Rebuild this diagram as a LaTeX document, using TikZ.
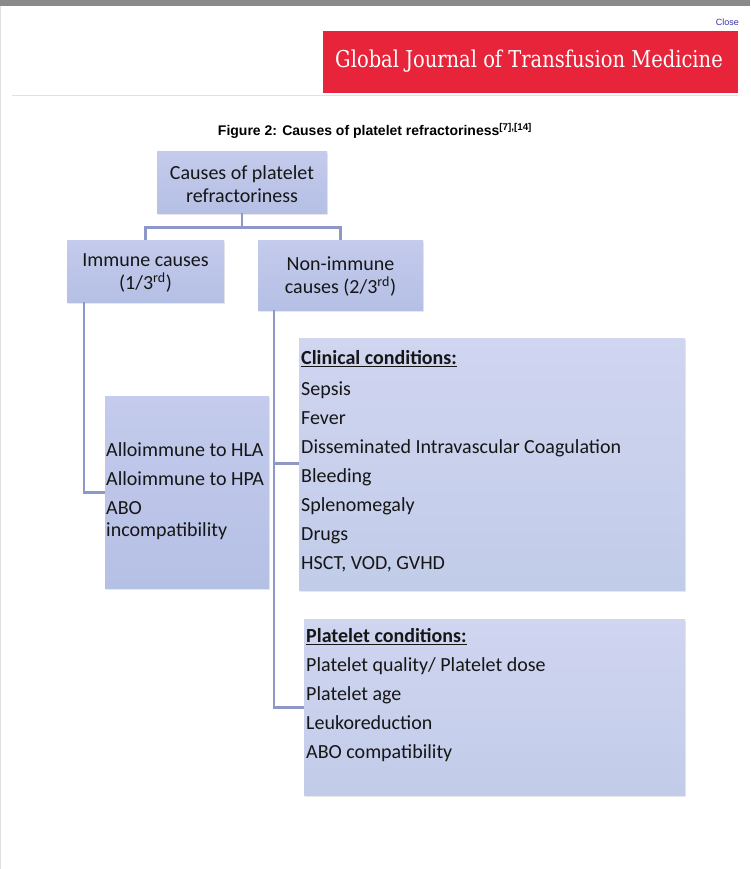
\documentclass[tikz,border=0pt]{standalone}
\usepackage{fontspec}
\setmainfont{Carlito}
\newfontfamily\capfont{Liberation Sans}
\newfontfamily\banfont{DejaVu Serif}
\usetikzlibrary{shadows}
\definecolor{graybar}{HTML}{8A8A8A}
\definecolor{closeblue}{HTML}{3535A8}
\definecolor{bannerred}{HTML}{E8243A}
\definecolor{pinkline}{HTML}{F3D8DC}
\definecolor{linkc}{HTML}{8E98C8}
\definecolor{boxtop}{HTML}{C4CBEC}
\definecolor{boxbot}{HTML}{B5C0E5}
\definecolor{bigtop}{HTML}{D0D5F0}
\definecolor{bigbot}{HTML}{C1CCE9}
\definecolor{txt}{HTML}{161616}
\tikzset{
  cbox/.style={inner sep=0pt, top color=boxtop, bottom color=boxbot, draw=none,
    drop shadow={opacity=0.18, shadow xshift=1.2pt, shadow yshift=-1.5pt}},
  bigbox/.style={cbox, top color=bigtop, bottom color=bigbot},
  btext/.style={font=\fontsize{20}{23}\selectfont, text=txt, align=center, inner sep=0pt, yshift=-2pt},
  ltext/.style={font=\fontsize{20}{23}\selectfont, text=txt, anchor=west, inner sep=0pt,
    text height=14pt, text depth=0.5pt}
}
\tikzset{link/.style={draw=linkc, line width=2.4pt}}
\begin{document}
\begin{tikzpicture}[x=1pt,y=-1pt]
\useasboundingbox (0,0) rectangle (750,869);
\fill[white] (0,0) rectangle (750,869);
% header
\fill[graybar] (0,0) rectangle (750,6);
\draw[gray!25, line width=0.8pt] (0.5,6) -- (0.5,869);
\node[font=\capfont\fontsize{9}{10}\selectfont, text=closeblue, anchor=east, inner sep=0pt] (close) at (739,22) {Close};
\node[fill=bannerred, minimum width=415pt, minimum height=62pt, inner sep=0pt] (banner) at (530.5,62) {};
\node[text=white, inner sep=0pt] (bantext) at (529,61) {\scalebox{0.84}[1]{\banfont\fontsize{23.2}{26}\selectfont Global Journal of Transfusion Medicine}};
\draw[pinkline, line width=1pt] (12,95.5) -- (738,95.5);
\node[font=\capfont\bfseries\fontsize{14}{16}\selectfont, inner sep=0pt] (caption) at (375,131) {Figure 2: Causes of platelet refractoriness\textsuperscript{[7],[14]}};
% boxes
\node[cbox, minimum width=170pt, minimum height=61pt] (root) at (242,182.5) {};
\node[btext] (roott) at (242,182) {Causes of platelet\\refractoriness};
\node[cbox, minimum width=157pt, minimum height=62pt] (imm) at (145.5,271) {};
\node[btext] (immt) at (145.5,271) {Immune causes\\(1/3\textsuperscript{rd})};
\node[cbox, minimum width=165pt, minimum height=70pt] (non) at (340.5,275) {};
\node[btext] (nont) at (340.5,275) {Non-immune\\causes (2/3\textsuperscript{rd})};
\node[cbox, minimum width=164pt, minimum height=192pt] (immlist) at (187,492) {};
\node[bigbox, minimum width=386pt, minimum height=252pt] (clin) at (492,464) {};
\node[bigbox, minimum width=381pt, minimum height=176pt] (plat) at (494.5,707) {};
% immune list text
\node[ltext] (i1) at (106,450) {Alloimmune to HLA};
\node[ltext] (i2) at (106,479) {Alloimmune to HPA};
\node[ltext] (i3) at (106,508) {ABO};
\node[ltext] (i4) at (106,530) {incompatibility};
% clinical text
\node[ltext] (c0) at (301,358) {\textbf{\underline{Clinical conditions:}}};
\node[ltext] (c1) at (301,389) {Sepsis};
\node[ltext] (c2) at (301,418) {Fever};
\node[ltext] (c3) at (301,447) {Disseminated Intravascular Coagulation};
\node[ltext] (c4) at (301,476) {Bleeding};
\node[ltext] (c5) at (301,505) {Splenomegaly};
\node[ltext] (c6) at (301,534) {Drugs};
\node[ltext] (c7) at (301,563) {HSCT, VOD, GVHD};
% platelet text
\node[ltext] (p0) at (306,636) {\textbf{\underline{Platelet conditions:}}};
\node[ltext] (p1) at (306,665) {Platelet quality/ Platelet dose};
\node[ltext] (p2) at (306,694) {Platelet age};
\node[ltext] (p3) at (306,723) {Leukoreduction};
\node[ltext] (p4) at (306,752) {ABO compatibility};
% connectors
\coordinate (j) at (242,227.5);
\draw[link] (root.south) -- (j);
\draw[link] (imm.north -| 145.5,0) |- (j) -| (non.north);
\draw[link] (imm.south -| 84,0) |- (immlist.west |- 0,492.5);
\draw[link] (non.south -| 274,0) |- (plat.west |- 0,707.5);
\draw[link] (274,463.5) -- (clin.west |- 0,463.5);
\end{tikzpicture}
\end{document}
